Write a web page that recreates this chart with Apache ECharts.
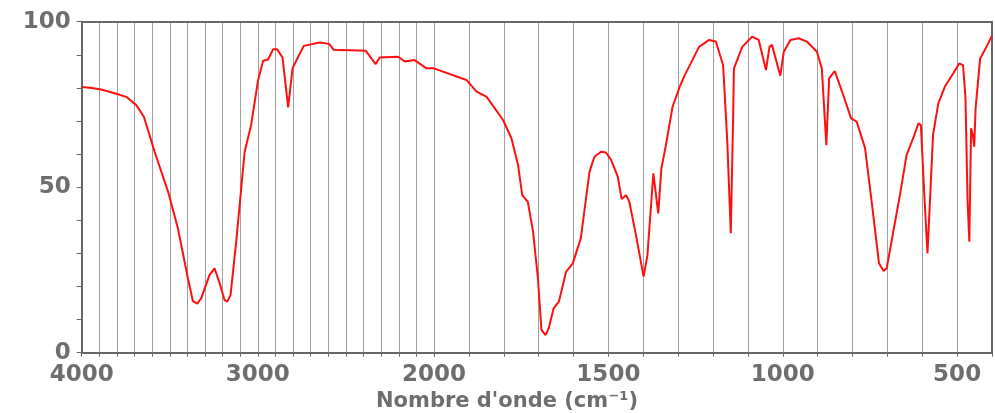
<!DOCTYPE html>
<html>
<head>
<meta charset="utf-8">
<script src="https://cdn.jsdelivr.net/npm/echarts@6/dist/echarts.min.js"></script>
<style>html,body{margin:0;padding:0;background:#fff}#c{width:995px;height:413px}</style>
</head>
<body>
<div id="c"></div>
<script>
// Wavenumber (cm-1) and transmittance (%) — high range 4000..2000
const wnHigh = [4000,3942,3889,3813,3747,3690,3647,3586,3507,3454,3397,3369,3344,3322,3274,3246,3217,3189,3174,3155,3123,3075,3038,3000,2970,2942,2913,2891,2860,2828,2803,2762,2739,2648,2596,2569,2387,2331,2308,2204,2166,2110,2043,2000];
const tHigh  = [80.3,80.0,79.5,78.4,77.3,74.8,71.3,60.7,48.2,37.6,22.5,15.6,14.8,16.4,23.5,25.5,21.0,15.9,15.4,17.4,33.5,60.7,68.8,82.0,88.2,88.6,91.7,91.7,89.2,74.1,85.9,90.4,92.7,93.7,93.3,91.5,91.2,87.2,89.2,89.4,88.0,88.4,85.9,85.9];
// low range 2000..400
const wnLow = [2000,1997,1907,1878,1849,1802,1778,1759,1747,1731,1716,1702,1692,1680,1671,1657,1642,1621,1602,1579,1554,1540,1521,1507,1492,1473,1462,1449,1440,1421,1399,1388,1371,1357,1348,1335,1316,1297,1283,1240,1211,1192,1171,1159,1149,1142,1140,1116,1088,1069,1048,1038,1031,1007,997,978,954,931,902,888,875,867,851,830,804,788,764,745,724,711,702,683,664,645,626,611,604,593,585,578,569,554,535,511,494,483,476,470,465,460,455,451,447,434,416,400];
const tLow  = [85.9,85.9,82.4,78.9,77.3,70.3,64.8,56.7,47.6,45.6,36.6,22.5,6.9,5.3,7.4,13.4,15.4,24.5,27.0,34.6,54.7,59.2,60.7,60.5,58.2,53.2,46.4,47.6,45.6,35.6,23.0,29.5,54.2,42.1,55.7,62.7,74.3,79.9,83.4,92.4,94.5,94.0,86.9,63.7,36.1,72.8,85.9,92.4,95.5,94.5,85.4,92.4,93.0,83.7,90.9,94.5,95.0,94.0,90.9,85.9,62.7,82.9,85.1,78.9,70.8,69.8,61.8,45.6,27.0,24.7,25.5,36.6,47.6,59.7,64.8,69.3,68.8,45.6,30.0,45.6,65.8,75.3,80.4,84.4,87.4,86.9,76.9,45.6,33.5,67.8,65.8,62.2,73.8,88.9,92.4,95.8];
const labelsHigh = [4000,3000,2000];
const labelsLow = [1500,1000,500];
const yLabels = [0,50,100];
const xTitle = "Nombre d'onde (cm⁻¹)";

const zip = (a,b) => a.map((v,i)=>[v,b[i]]);
const axisCol = '#666';
const gridCol = '#a0a0a0';
const font = {fontFamily:'DejaVu Sans', fontWeight:'bold', fontSize:23, color:'#6e6e6e'};

const chart = echarts.init(document.getElementById('c'), null, {renderer:'canvas'});
const xBase = (min,max,labels,gi) => ({
  type:'value', gridIndex:gi, min, max, interval:100, inverse:true, position:'bottom',
  axisLine:{show:true, onZero:false, lineStyle:{color:axisCol, width:2}},
  axisTick:{show:true, length:4, lineStyle:{color:axisCol, width:1}},
  splitLine:{show:true, lineStyle:{color:gridCol, width:1}},
  axisLabel:Object.assign({margin:11, showMinLabel:true, showMaxLabel:true,
    formatter:v=>labels.includes(v)?String(v):''}, font)
});
const xTop = (min,max,gi) => ({
  type:'value', gridIndex:gi, min, max, inverse:true, position:'top',
  axisLine:{show:true, onZero:false, lineStyle:{color:axisCol, width:2}},
  axisTick:{show:false}, axisLabel:{show:false}, splitLine:{show:false}
});
chart.setOption({
  animation:false,
  backgroundColor:'#fff',
  title:{text:xTitle, left:371, top:386,
    textStyle:{fontFamily:'DejaVu Sans', fontWeight:'bold', fontSize:21, color:'#6e6e6e'}},
  grid:[
    {left:81.7, top:21.7, width:352.3, bottom:60.3, containLabel:false},
    {left:434, top:21.7, right:1, bottom:60.3, containLabel:false}
  ],
  xAxis:[
    xBase(2000,4000,labelsHigh,0),
    xBase(400,2000,labelsLow,1),
    xTop(2000,4000,0),
    xTop(400,2000,1)
  ],
  yAxis:[
    {type:'value', gridIndex:0, min:0, max:100, interval:10,
     axisLine:{show:true, lineStyle:{color:axisCol, width:2}},
     axisTick:{show:true, length:5, lineStyle:{color:axisCol, width:1}},
     splitLine:{show:false},
     axisLabel:Object.assign({margin:11, formatter:v=>yLabels.includes(v)?String(v):''}, font)},
    {type:'value', gridIndex:1, min:0, max:100, interval:10, position:'right',
     axisLine:{show:true, lineStyle:{color:axisCol, width:2}},
     axisTick:{show:false}, axisLabel:{show:false}, splitLine:{show:false}}
  ],
  series:[
    {type:'line', xAxisIndex:0, yAxisIndex:0, data:zip(wnHigh,tHigh), showSymbol:false, smooth:false,
     lineStyle:{color:'#ff1010', width:2}, itemStyle:{color:'#ff1010'}},
    {type:'line', xAxisIndex:1, yAxisIndex:1, data:zip(wnLow,tLow), showSymbol:false, smooth:false,
     lineStyle:{color:'#ff1010', width:2}, itemStyle:{color:'#ff1010'}}
  ]
});
</script>
</body>
</html>
